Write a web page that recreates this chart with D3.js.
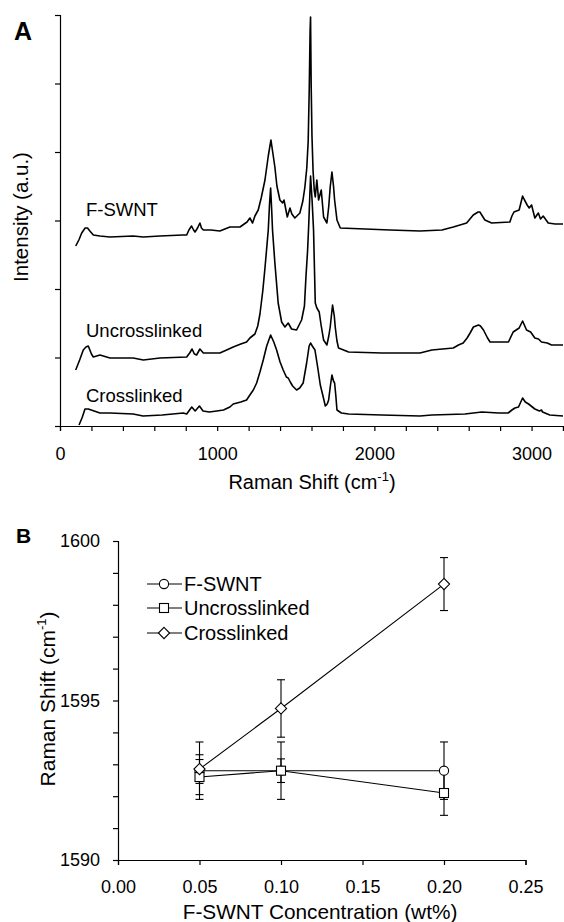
<!DOCTYPE html>
<html><head><meta charset="utf-8">
<script src="https://cdn.jsdelivr.net/npm/d3@7"></script>
<style>body{margin:0;background:#fff} svg{display:block} text{font-family:"Liberation Sans",Arial,Helvetica,sans-serif;fill:#000}</style>
</head><body><svg id="c" width="564" height="922"></svg>
<script>
// ---------- Panel A data: Raman spectra [shift (cm-1), intensity (a.u.)] ----------
const specNames = ["F-SWNT", "Uncrosslinked", "Crosslinked"];
const specFSWNT = [[100,180],[120,186],[138,193],[160,198],[175,198],[190,195],[212,191],[254,190],[318,189],[466,190],[530,189],[636,190],[780,191],[806,191],[820,196],[837,200],[850,196],[859,194],[875,198],[890,203],[900,198],[912,196],[960,196],[1017,195],[1081,199],[1145,199],[1190,204],[1208,208],[1225,203],[1240,210],[1261,216],[1280,228],[1304,246],[1325,270],[1342,286],[1355,272],[1367,259],[1380,240],[1399,226],[1416,223],[1425,226],[1446,209],[1463,218],[1475,212],[1494,208],[1526,213],[1545,225],[1558,239],[1570,258],[1579,285],[1586,340],[1591,395],[1594,409],[1598,340],[1603,290],[1610,255],[1618,235],[1624,229],[1634,246],[1645,226],[1662,236],[1677,209],[1698,203],[1710,220],[1719,239],[1730,254],[1740,240],[1747,226],[1762,206],[1783,198],[1942,197],[2100,196],[2290,195],[2430,196],[2502,199],[2587,203],[2629,211],[2660,214],[2671,214],[2703,206],[2746,203],[2862,204],[2875,210],[2888,214],[2921,216],[2943,230],[2955,226],[2972,221],[2985,218],[3000,221],[3021,208],[3043,213],[3057,207],[3074,210],[3106,203],[3150,202],[3200,202]];
const specUncross = [[100,56],[125,66],[148,76],[165,79],[180,80],[200,72],[212,69],[254,71],[318,68],[466,68],[530,66],[636,68],[806,69],[825,73],[840,77],[855,72],[869,71],[890,77],[912,73],[933,73],[997,73],[1017,73],[1060,76],[1102,79],[1150,82],[1187,84],[1208,88],[1240,92],[1258,100],[1272,112],[1290,135],[1304,158],[1325,196],[1333,222],[1340,238],[1347,215],[1352,196],[1367,163],[1388,123],[1410,104],[1431,99],[1452,103],[1473,97],[1505,96],[1537,106],[1555,120],[1565,150],[1575,175],[1582,200],[1594,250],[1604,225],[1613,196],[1624,123],[1634,118],[1649,114],[1662,100],[1677,86],[1698,81],[1710,90],[1719,99],[1734,121],[1745,110],[1751,99],[1762,85],[1772,78],[1836,74],[2048,73],[2290,73],[2366,76],[2502,78],[2535,81],[2565,83],[2590,88],[2609,93],[2630,99],[2662,101],[2675,100],[2694,96],[2720,88],[2736,84],[2800,84],[2853,84],[2883,94],[2921,98],[2943,105],[2968,96],[2994,94],[3021,88],[3044,87],[3063,84],[3100,83],[3127,81],[3200,81]];
const specCross = [[121,1],[140,8],[159,17],[180,17],[254,13],[318,13],[466,12],[528,10],[650,11],[784,13],[806,12],[838,19],[860,15],[887,20],[910,15],[950,14],[997,15],[1040,16],[1081,19],[1102,22],[1150,24],[1187,26],[1208,31],[1230,36],[1251,43],[1272,54],[1293,66],[1315,80],[1340,91],[1360,84],[1378,76],[1400,64],[1420,56],[1440,49],[1452,48],[1465,44],[1480,40],[1505,36],[1525,38],[1547,43],[1569,63],[1585,80],[1594,83],[1605,80],[1622,76],[1640,58],[1656,41],[1670,32],[1688,20],[1700,22],[1709,26],[1720,40],[1730,51],[1740,45],[1747,43],[1755,30],[1762,16],[1790,13],[1836,12],[2048,11],[2290,10],[2366,11],[2576,12],[2684,14],[2790,13],[2851,13],[2875,16],[2894,18],[2917,19],[2943,28],[2960,24],[2981,22],[3021,17],[3050,15],[3063,16],[3070,14],[3116,11],[3200,10]];
const xTicksA = [0, 1000, 2000, 3000];

// ---------- Panel B data ----------
const conc = [0.05, 0.10, 0.20];
const seriesNames = ["F-SWNT", "Uncrosslinked", "Crosslinked"];
const shiftFSWNT   = [1592.8, 1592.8, 1592.8];
const errFSWNT     = [0.9, 0.9, 0.9];
const shiftUncross = [1592.6, 1592.8, 1592.1];
const errUncross   = [0.55, 0.37, 0.7];
const shiftCross   = [1592.85, 1594.75, 1598.65];
const errCross     = [0.45, 0.9, 0.83];
const xTicksB = [0, 0.05, 0.10, 0.15, 0.20, 0.25];
const yTicksB = [1590, 1595, 1600];

const svg = d3.select("#c");
const FONT = 18;

// ================= Panel A =================
const xA = d3.scaleLinear().domain([0, 3200]).range([60, 563]);
const yA = d3.scaleLinear().domain([0, 411]).range([426, 15]);

const gxA = svg.append("g").attr("transform", "translate(0,426)")
  .call(d3.axisBottom(xA).tickValues(d3.range(0, 3201, 200)).tickSize(5).tickPadding(16)
    .tickFormat(d => xTicksA.includes(d) ? d : ""));
const gyA = svg.append("g").attr("transform", "translate(60,0)")
  .call(d3.axisLeft(yA).tickValues(d3.range(0, 412, 68.5)).tickSize(5).tickFormat(""));
[gxA, gyA].forEach(g => {
  g.select(".domain").attr("stroke", "#000").attr("stroke-width", 1.2);
  g.selectAll(".tick line").attr("stroke", "#000").attr("stroke-width", 1.2);
  g.selectAll("text").attr("font-size", FONT).attr("font-family", "Liberation Sans, Arial, sans-serif").attr("fill", "#000");
});

const lineA = d3.line().x(d => xA(d[0])).y(d => yA(d[1]));
[specFSWNT, specUncross, specCross].forEach(s => {
  svg.append("path").datum(s).attr("d", lineA).attr("fill", "none")
    .attr("stroke", "#000").attr("stroke-width", 1.6).attr("stroke-linejoin", "round");
});

// spectrum labels
const labY = [216, 336.5, 401.5];
specNames.forEach((n, i) => {
  svg.append("text").attr("x", 86).attr("y", labY[i]).attr("font-size", 18.5).text(n);
});

// axis titles
const tA = svg.append("text").attr("x", 312).attr("y", 489).attr("text-anchor", "middle").attr("font-size", 20);
tA.append("tspan").text("Raman Shift (cm");
tA.append("tspan").attr("font-size", 13).attr("dy", -8).text("-1");
tA.append("tspan").attr("dy", 8).text(")");
svg.append("text").attr("transform", "translate(28,217) rotate(-90)").attr("text-anchor", "middle")
  .attr("font-size", 20.5).text("Intensity (a.u.)");
svg.append("text").attr("x", 14).attr("y", 40).attr("font-size", 25).attr("font-weight", "bold").text("A");

// ================= Panel B =================
const xB = d3.scaleLinear().domain([0, 0.25]).range([118, 525.5]);
const yB = d3.scaleLinear().domain([1590, 1600]).range([860, 541]);

const gxB = svg.append("g").attr("transform", "translate(0,860)")
  .call(d3.axisBottom(xB).tickValues(xTicksB).tickSize(5).tickPadding(15).tickFormat(d3.format(".2f")));
const gyB = svg.append("g").attr("transform", "translate(118,0)")
  .call(d3.axisLeft(yB).tickValues(d3.range(1590, 1600.5, 1)).tickSize(5).tickPadding(13)
    .tickFormat(d => yTicksB.includes(d) ? d : ""));
[gxB, gyB].forEach(g => {
  g.select(".domain").attr("stroke", "#000").attr("stroke-width", 1.2);
  g.selectAll(".tick line").attr("stroke", "#000").attr("stroke-width", 1.2);
  g.selectAll("text").attr("font-size", FONT).attr("font-family", "Liberation Sans, Arial, sans-serif").attr("fill", "#000");
});

const seriesB = [
  {name: seriesNames[0], v: shiftFSWNT, e: errFSWNT, m: "circle"},
  {name: seriesNames[1], v: shiftUncross, e: errUncross, m: "square"},
  {name: seriesNames[2], v: shiftCross, e: errCross, m: "diamond"}
];

function marker(g, type, cx, cy) {
  if (type === "circle") {
    g.append("circle").attr("cx", cx).attr("cy", cy).attr("r", 4.6)
      .attr("fill", "#fff").attr("stroke", "#000").attr("stroke-width", 1.1);
  } else if (type === "square") {
    g.append("rect").attr("x", cx - 4.5).attr("y", cy - 4.5).attr("width", 9).attr("height", 9)
      .attr("fill", "#fff").attr("stroke", "#000").attr("stroke-width", 1.1);
  } else {
    const r = 5.6;
    g.append("path").attr("d", `M${cx},${cy - r}L${cx + r},${cy}L${cx},${cy + r}L${cx - r},${cy}Z`)
      .attr("fill", "#fff").attr("stroke", "#000").attr("stroke-width", 1.1);
  }
}

const lineB = d3.line().x(d => xB(d[0])).y(d => yB(d[1]));
seriesB.forEach(s => {
  const pts = conc.map((c, i) => [c, s.v[i]]);
  svg.append("path").datum(pts).attr("d", lineB).attr("fill", "none").attr("stroke", "#000").attr("stroke-width", 1.1);
});
seriesB.forEach(s => {
  conc.forEach((c, i) => {
    const x = xB(c), y1 = yB(s.v[i] + s.e[i]), y2 = yB(s.v[i] - s.e[i]);
    const g = svg.append("g").attr("stroke", "#000").attr("stroke-width", 1.1);
    g.append("line").attr("x1", x).attr("x2", x).attr("y1", y1).attr("y2", y2);
    g.append("line").attr("x1", x - 4).attr("x2", x + 4).attr("y1", y1).attr("y2", y1);
    g.append("line").attr("x1", x - 4).attr("x2", x + 4).attr("y1", y2).attr("y2", y2);
  });
});
seriesB.forEach(s => {
  conc.forEach((c, i) => marker(svg, s.m, xB(c), yB(s.v[i])));
});

// legend
const legY = [584, 608, 633];
seriesB.forEach((s, i) => {
  const g = svg.append("g");
  g.append("line").attr("x1", 147).attr("x2", 182).attr("y1", legY[i]).attr("y2", legY[i])
    .attr("stroke", "#000").attr("stroke-width", 1.1);
  marker(g, s.m, 164, legY[i]);
  g.append("text").attr("x", 184).attr("y", legY[i] + 7).attr("font-size", 20).text(s.name);
});

// axis titles B
svg.append("text").attr("x", 320).attr("y", 919).attr("text-anchor", "middle").attr("font-size", 20.8)
  .text("F-SWNT Concentration (wt%)");
const tB = svg.append("text").attr("transform", "translate(55,699) rotate(-90)").attr("text-anchor", "middle").attr("font-size", 21);
tB.append("tspan").text("Raman Shift (cm");
tB.append("tspan").attr("font-size", 13).attr("dy", -9).text("-1");
tB.append("tspan").attr("dy", 9).text(")");
svg.append("text").attr("x", 16).attr("y", 543).attr("font-size", 21).attr("font-weight", "bold").text("B");
</script></body></html>
